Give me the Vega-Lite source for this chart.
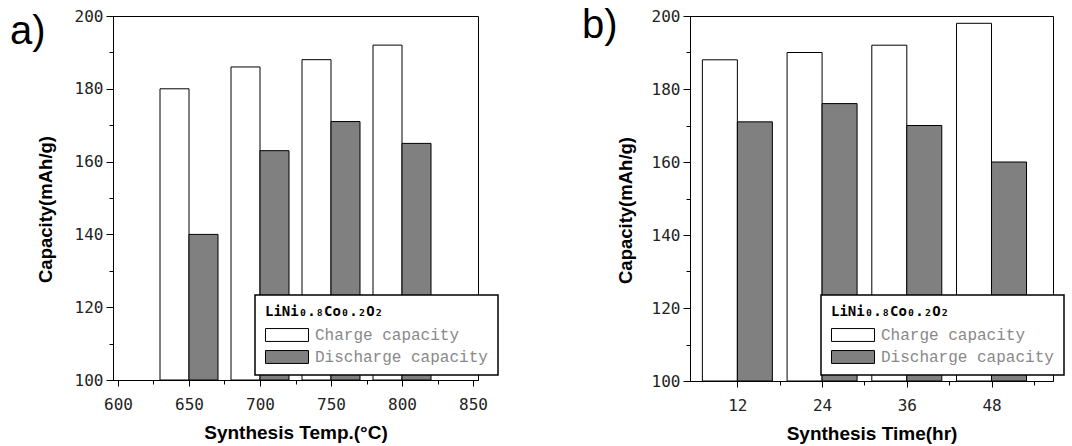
{
  "$schema": "https://vega.github.io/schema/vega-lite/v6.json",
  "background": "white",
  "padding": {"left": 9, "top": 5, "right": 0, "bottom": 0},
  "datasets": {
    "a": [
      {"temp": 650, "series": "Charge capacity", "capacity": 180},
      {"temp": 700, "series": "Charge capacity", "capacity": 186},
      {"temp": 750, "series": "Charge capacity", "capacity": 188},
      {"temp": 800, "series": "Charge capacity", "capacity": 192},
      {"temp": 650, "series": "Discharge capacity", "capacity": 140},
      {"temp": 700, "series": "Discharge capacity", "capacity": 163},
      {"temp": 750, "series": "Discharge capacity", "capacity": 171},
      {"temp": 800, "series": "Discharge capacity", "capacity": 165}
    ],
    "b": [
      {"time": 12, "series": "Charge capacity", "capacity": 188},
      {"time": 24, "series": "Charge capacity", "capacity": 190},
      {"time": 36, "series": "Charge capacity", "capacity": 192},
      {"time": 48, "series": "Charge capacity", "capacity": 198},
      {"time": 12, "series": "Discharge capacity", "capacity": 171},
      {"time": 24, "series": "Discharge capacity", "capacity": 176},
      {"time": 36, "series": "Discharge capacity", "capacity": 170},
      {"time": 48, "series": "Discharge capacity", "capacity": 160}
    ]
  },
  "spacing": 81,
  "resolve": {"scale": {"fill": "independent"}, "legend": {"fill": "independent"}},
  "hconcat": [
    {
      "width": 365,
      "height": 364,
      "title": {"text": "a)", "orient": "top", "anchor": "start", "frame": "group", "font": "Liberation Sans", "fontSize": 40, "fontWeight": "normal", "color": "black", "baseline": "alphabetic", "offset": -76, "dx": -103},
      "data": {"name": "a"},
      "encoding": {
        "x": {
          "field": "temp", "type": "quantitative",
          "scale": {"domain": [600, 850], "nice": false, "zero": false},
          "axis": {
            "title": "Synthesis Temp.(°C)",
            "values": [600, 625, 650, 675, 700, 725, 750, 775, 800, 825, 850],
            "labelExpr": "datum.value % 50 == 0 ? datum.label : ''",
            "tickSize": {"condition": {"test": "datum.value % 50 == 0", "value": 6}, "value": 4},
            "labelPadding": 10,
            "titlePadding": 11,
            "labelFlush": false,
            "labelOverlap": false
          }
        },
        "y": {
          "field": "capacity", "type": "quantitative",
          "scale": {"domain": [100, 200], "nice": false, "zero": false},
          "axis": {
            "title": "Capacity(mAh/g)",
            "values": [100, 110, 120, 130, 140, 150, 160, 170, 180, 190, 200],
            "labelExpr": "datum.value % 20 == 0 ? datum.label : ''",
            "tickSize": {"condition": {"test": "datum.value % 20 == 0", "value": 7}, "value": 4},
            "labelPadding": 3,
            "titlePadding": 19,
            "titleY": 193,
            "titleFontSize": 18.5,
            "labelOverlap": false
          }
        },
        "y2": {"datum": 100},
        "fill": {
          "field": "series", "type": "nominal",
          "scale": {"domain": ["Charge capacity", "Discharge capacity"], "range": ["white", "#808080"]},
          "legend": {
            "orient": "none", "legendX": 142, "legendY": 279,
            "title": "LiNi₀.₈Co₀.₂O₂",
            "symbolType": "M-1,-0.3H1V0.3H-1Z", "symbolSize": 1849,
            "symbolStrokeColor": "black", "symbolStrokeWidth": 1, "symbolOpacity": 1,
            "clipHeight": 16, "rowPadding": 6, "labelOffset": 6,
            "labelFont": "Liberation Mono", "labelFontSize": 16, "labelColor": "#888888", "labelLimit": 400,
            "titleFont": "DejaVu Sans Mono", "titleFontSize": 14, "titleFontWeight": "bold", "titleColor": "black", "titlePadding": 8,
            "padding": 10, "strokeColor": "black", "fillColor": "white"
          }
        }
      },
      "layer": [
        {"transform": [{"filter": "datum.series == 'Charge capacity'"}], "mark": {"type": "bar", "width": 29, "xOffset": -14.5, "stroke": "black", "strokeWidth": 1}},
        {"transform": [{"filter": "datum.series == 'Discharge capacity'"}], "mark": {"type": "bar", "width": 29, "xOffset": 14.5, "stroke": "black", "strokeWidth": 1}}
      ]
    },
    {
      "width": 363,
      "height": 365,
      "title": {"text": "b)", "orient": "top", "anchor": "start", "frame": "group", "font": "Liberation Sans", "fontSize": 40, "fontWeight": "normal", "color": "black", "baseline": "alphabetic", "offset": -70, "dx": -108},
      "data": {"name": "b"},
      "encoding": {
        "x": {
          "field": "time", "type": "quantitative",
          "scale": {"domain": [6, 56], "nice": false, "zero": false},
          "axis": {
            "title": "Synthesis Time(hr)",
            "values": [12, 18, 24, 30, 36, 42, 48, 54],
            "labelExpr": "datum.value % 12 == 0 ? datum.label : ''",
            "tickSize": {"condition": {"test": "datum.value % 12 == 0", "value": 6}, "value": 4},
            "labelPadding": 10,
            "titlePadding": 11,
            "labelFlush": false,
            "labelOverlap": false
          }
        },
        "y": {
          "field": "capacity", "type": "quantitative",
          "scale": {"domain": [100, 200], "nice": false, "zero": false},
          "axis": {
            "title": "Capacity(mAh/g)",
            "values": [100, 110, 120, 130, 140, 150, 160, 170, 180, 190, 200],
            "labelExpr": "datum.value % 20 == 0 ? datum.label : ''",
            "tickSize": {"condition": {"test": "datum.value % 20 == 0", "value": 7}, "value": 4},
            "labelPadding": 3,
            "titlePadding": 16,
            "titleY": 194,
            "titleFontSize": 18.5,
            "labelOverlap": false
          }
        },
        "y2": {"datum": 100},
        "fill": {
          "field": "series", "type": "nominal",
          "scale": {"domain": ["Charge capacity", "Discharge capacity"], "range": ["white", "#808080"]},
          "legend": {
            "orient": "none", "legendX": 131, "legendY": 279,
            "title": "LiNi₀.₈Co₀.₂O₂",
            "symbolType": "M-1,-0.3H1V0.3H-1Z", "symbolSize": 1849,
            "symbolStrokeColor": "black", "symbolStrokeWidth": 1, "symbolOpacity": 1,
            "clipHeight": 16, "rowPadding": 6, "labelOffset": 6,
            "labelFont": "Liberation Mono", "labelFontSize": 16, "labelColor": "#888888", "labelLimit": 400,
            "titleFont": "DejaVu Sans Mono", "titleFontSize": 14, "titleFontWeight": "bold", "titleColor": "black", "titlePadding": 8,
            "padding": 10, "strokeColor": "black", "fillColor": "white"
          }
        }
      },
      "layer": [
        {"transform": [{"filter": "datum.series == 'Charge capacity'"}], "mark": {"type": "bar", "width": 35, "xOffset": -17.5, "stroke": "black", "strokeWidth": 1}},
        {"transform": [{"filter": "datum.series == 'Discharge capacity'"}], "mark": {"type": "bar", "width": 35, "xOffset": 17.5, "stroke": "black", "strokeWidth": 1}}
      ]
    }
  ],
  "config": {
    "view": {"stroke": "black", "strokeWidth": 1},
    "legend": {"strokeWidth": 1.5},
    "axis": {
      "domainColor": "black", "domainWidth": 1, "tickColor": "black", "tickWidth": 1,
      "grid": false,
      "labelFont": "DejaVu Sans Mono", "labelFontSize": 16, "labelColor": "#222222",
      "titleFont": "Liberation Sans", "titleFontSize": 19, "titleFontWeight": "bold", "titleColor": "black"
    }
  }
}
